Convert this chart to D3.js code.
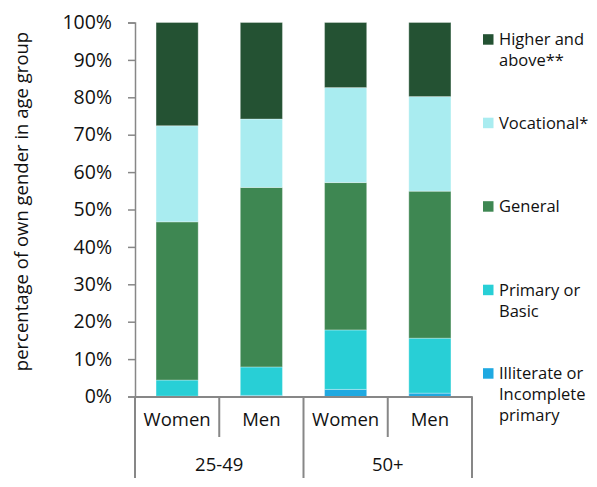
<!DOCTYPE html>
<html>
<head>
<meta charset="utf-8">
<script src="https://cdn.jsdelivr.net/npm/d3@7"></script>
<style>
  body { margin: 0; background: #fff; }
  text { font-family: "Open Sans", sans-serif; fill: #111; }
</style>
</head>
<body>
<div id="chart"></div>
<script>
// Education level by gender and age group (share of own gender in age group)
const barIds = ['w25', 'm25', 'w50', 'm50'];
const genders = ['Women', 'Men', 'Women', 'Men'];
const ageGroups = ['25-49', '50+'];

const levels = ['Illiterate', 'Primary', 'General', 'Vocational', 'Higher'];
const illiterate = [0.1, 0.3, 1.9, 0.9];
const primary = [4.3, 7.6, 15.9, 14.7];
const general = [42.3, 48.0, 39.4, 39.3];
const vocational = [25.7, 18.3, 25.4, 25.3];
const higher = [27.6, 25.8, 17.4, 19.8];

const legendLines = {
    Illiterate: ['Illiterate or', 'Incomplete', 'primary'],
    Primary: ['Primary or', 'Basic'],
    General: ['General'],
    Vocational: ['Vocational*'],
    Higher: ['Higher and', 'above**']
};
const yTicks = [0, 10, 20, 30, 40, 50, 60, 70, 80, 90, 100];

const colors = {
    Illiterate: '#1fa9e1',
    Primary: '#28cfd6',
    General: '#3e8752',
    Vocational: '#a9ecf0',
    Higher: '#245233'
};

const width = 597, height = 487;
const margin = { top: 22.5, bottom: 90.5, left: 135, right: 125 };

const svg = d3.select('#chart').append('svg')
    .attr('width', width)
    .attr('height', height);

// build table for stacking
const table = barIds.map((id, i) => ({
    id: id,
    Illiterate: illiterate[i],
    Primary: primary[i],
    General: general[i],
    Vocational: vocational[i],
    Higher: higher[i]
}));
const series = d3.stack().keys(levels)(table);

const x = d3.scaleBand()
    .domain(barIds)
    .range([margin.left, width - margin.right])
    .paddingInner(0.5)
    .paddingOuter(0.25);

const y = d3.scaleLinear()
    .domain([0, 100])
    .range([height - margin.bottom, margin.top]);

// bars
svg.append('g')
    .selectAll('g')
    .data(series)
    .join('g')
    .attr('fill', d => colors[d.key])
    .selectAll('rect')
    .data(d => d)
    .join('rect')
    .attr('x', d => x(d.data.id))
    .attr('y', d => y(d[1]))
    .attr('width', x.bandwidth())
    .attr('height', d => y(d[0]) - y(d[1]))
    .attr('stroke', 'rgba(255,255,255,0.3)')
    .attr('stroke-width', 1);

const axisColor = '#878787';

// y axis
const yAxis = svg.append('g')
    .attr('transform', `translate(${margin.left},0)`)
    .call(d3.axisLeft(y)
        .tickValues(yTicks)
        .tickFormat(d => d + '%')
        .tickSize(7)
        .tickSizeOuter(7)
        .tickPadding(16));
yAxis.selectAll('path, line').attr('stroke', axisColor).attr('stroke-width', 1.5);
yAxis.selectAll('text').style('font-size', '19.5px').attr('fill', '#111');

// x axis (gender level)
const x0 = y(0);
const xAxis = svg.append('g')
    .attr('transform', `translate(0,${x0})`)
    .call(d3.axisBottom(x)
        .tickFormat((d, i) => genders[i])
        .tickSize(0)
        .tickPadding(16));
xAxis.select('.domain').attr('stroke', axisColor).attr('stroke-width', 2);
xAxis.selectAll('text').style('font-size', '18.5px').attr('fill', '#111');

// category separators
const step = x.step();
const [r0, r1] = x.range();
const seps = d3.range(barIds.length + 1).map(i => ({
    pos: r0 + i * step,
    long: i % 2 === 0
}));
svg.append('g')
    .selectAll('line')
    .data(seps)
    .join('line')
    .attr('x1', d => d.pos)
    .attr('x2', d => d.pos)
    .attr('y1', x0)
    .attr('y2', d => d.long ? 478 : 437)
    .attr('stroke', axisColor)
    .attr('stroke-width', 2);

// age group labels
svg.append('g')
    .selectAll('text')
    .data(ageGroups)
    .join('text')
    .attr('x', (d, i) => r0 + (i * 2 + 1) * step)
    .attr('y', 465)
    .attr('dy', '0.35em')
    .attr('text-anchor', 'middle')
    .style('font-size', '18.5px')
    .text(d => d);

// y axis title
svg.append('text')
    .attr('transform', `translate(22,${(y(0) + y(100)) / 2 - 8}) rotate(-90)`)
    .attr('text-anchor', 'middle')
    .attr('dy', '0.35em')
    .style('font-size', '18.5px')
    .text('percentage of own gender in age group');

// legend (top to bottom: reverse stack order)
const legendOrder = levels.slice().reverse();
const legend = svg.append('g')
    .selectAll('g')
    .data(legendOrder)
    .join('g')
    .attr('transform', (d, i) => `translate(483,${39.7 + i * 83.5})`);

legend.append('rect')
    .attr('x', 0)
    .attr('y', -5.5)
    .attr('width', 10.5)
    .attr('height', 10.5)
    .attr('fill', d => colors[d]);

legend.append('text')
    .attr('x', 16)
    .style('font-size', '16.5px')
    .selectAll('tspan')
    .data(d => legendLines[d])
    .join('tspan')
    .attr('x', 16)
    .attr('y', (d, i) => i * 21)
    .attr('dy', '0.35em')
    .text(d => d);
</script>
</body>
</html>
